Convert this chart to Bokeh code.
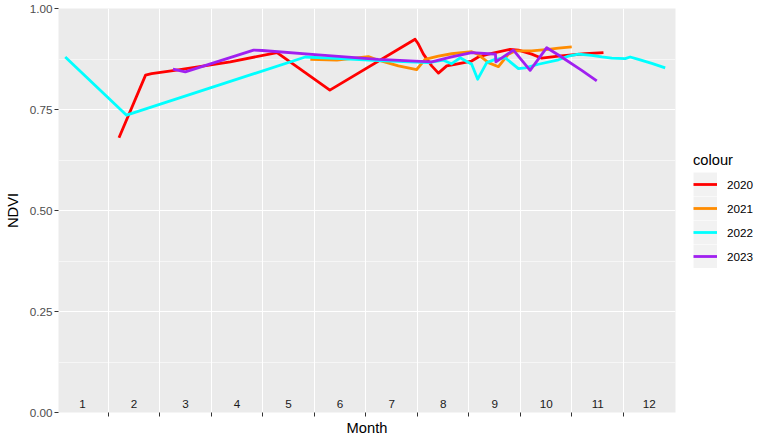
from bokeh.plotting import figure
from bokeh.models import (Range1d, FixedTicker, NumeralTickFormatter, Legend,
                          LegendItem)
from bokeh.embed import file_html
from bokeh.resources import INLINE

FONT = "Liberation Sans"

years = ["2020", "2021", "2022", "2023"]
colors = ["#FF0000", "#FF8C00", "#00FFFF", "#A020F0"]

month_2020 = [1.708, 2.224, 2.341, 2.859, 3.869, 4.776, 5.801, 7.455, 7.519, 7.617,
              7.778, 7.908, 8.069, 8.232, 8.554, 8.684, 8.879, 9.300, 9.461, 9.719,
              9.914, 10.238, 10.756, 11.112]
ndvi_2020 = [0.680, 0.835, 0.839, 0.848, 0.868, 0.891, 0.798, 0.924, 0.912, 0.887,
             0.858, 0.840, 0.858, 0.862, 0.870, 0.880, 0.887, 0.899, 0.897, 0.887,
             0.877, 0.882, 0.888, 0.891]

month_2021 = [5.422, 5.937, 6.549, 6.743, 7.131, 7.486, 7.649, 7.908, 8.166, 8.554,
              8.671, 8.879, 9.073, 9.267, 9.397, 9.719, 10.044, 10.238, 10.496]
ndvi_2021 = [0.874, 0.872, 0.881, 0.872, 0.858, 0.849, 0.874, 0.882, 0.888, 0.893,
             0.887, 0.866, 0.856, 0.887, 0.895, 0.895, 0.899, 0.902, 0.905]

month_2022 = [0.665, 1.855, 5.325, 6.005, 6.743, 7.714, 8.005, 8.160, 8.329, 8.554,
              8.671, 8.846, 9.009, 9.203, 9.461, 9.591, 9.850, 10.238, 10.432, 10.626,
              10.884, 11.079, 11.273, 11.533, 11.630, 11.791, 12.050, 12.310]
ndvi_2022 = [0.880, 0.736, 0.880, 0.876, 0.871, 0.866, 0.872, 0.863, 0.878, 0.862,
             0.825, 0.866, 0.874, 0.878, 0.851, 0.853, 0.862, 0.873, 0.882, 0.887,
             0.884, 0.880, 0.877, 0.876, 0.880, 0.874, 0.864, 0.853]

month_2023 = [2.756, 2.995, 4.321, 4.490, 5.578, 6.743, 7.778, 8.166, 8.554, 8.879,
              9.015, 9.024, 9.364, 9.688, 10.011, 10.238, 10.690, 10.982]
ndvi_2023 = [0.850, 0.843, 0.897, 0.896, 0.885, 0.874, 0.868, 0.880, 0.891, 0.888,
             0.887, 0.868, 0.897, 0.847, 0.903, 0.885, 0.847, 0.821]

month_pos = [1, 2, 3, 4, 5, 6, 7, 8, 9, 10, 11, 12]
month_edges = [1.5, 2.5, 3.5, 4.5, 5.5, 6.5, 7.5, 8.5, 9.5, 10.5, 11.5]
ndvi_ticks = [0.0, 0.25, 0.5, 0.75, 1.0]
ndvi_minor = [0.125, 0.375, 0.625, 0.875]

series_x = [month_2020, month_2021, month_2022, month_2023]
series_y = [ndvi_2020, ndvi_2021, ndvi_2022, ndvi_2023]

p = figure(frame_width=617, frame_height=404, output_backend="svg",
           toolbar_location=None,
           x_range=Range1d(0.534, 12.51), y_range=Range1d(0, 1),
           min_border_left=58, min_border_right=98, min_border_top=8,
           min_border_bottom=30)
p.background_fill_color = "#EBEBEB"
p.border_fill_color = "white"
p.outline_line_color = None

# x axis: month numbers at month centres (drawn inside the panel),
# tick marks at month boundaries
xa = p.xaxis[0]
xa.ticker = FixedTicker(ticks=month_pos, minor_ticks=month_edges)
xa.major_label_text_font = FONT
xa.major_label_text_font_size = "11.7px"
xa.major_label_text_color = "#1A1A1A"
xa.major_label_standoff = -17
xa.major_tick_out = 0
xa.major_tick_in = 0
xa.minor_tick_out = 4
xa.minor_tick_in = 0
xa.minor_tick_line_color = "#333333"
xa.axis_line_color = None
xa.axis_label = "Month"
xa.axis_label_text_font = FONT
xa.axis_label_text_font_size = "14.7px"
xa.axis_label_text_font_style = "normal"
xa.axis_label_text_color = "#000000"
xa.axis_label_standoff = 9

ya = p.yaxis[0]
ya.ticker = FixedTicker(ticks=ndvi_ticks, minor_ticks=ndvi_minor)
ya.formatter = NumeralTickFormatter(format="0.00")
ya.major_label_text_font = FONT
ya.major_label_text_font_size = "11.7px"
ya.major_label_text_color = "#4D4D4D"
ya.major_label_standoff = 2
ya.major_tick_out = 4
ya.major_tick_in = 0
ya.minor_tick_out = 0
ya.minor_tick_in = 0
ya.major_tick_line_color = "#333333"
ya.axis_line_color = None
ya.axis_label = "NDVI"
ya.axis_label_text_font = FONT
ya.axis_label_text_font_size = "14.7px"
ya.axis_label_text_font_style = "normal"
ya.axis_label_text_color = "#000000"
ya.axis_label_standoff = 6

p.xgrid.ticker = FixedTicker(ticks=month_edges, minor_ticks=[])
p.xgrid.grid_line_color = "white"
p.xgrid.grid_line_width = 1.1
p.ygrid.grid_line_color = "white"
p.ygrid.grid_line_width = 1.1
p.ygrid.minor_grid_line_color = "white"
p.ygrid.minor_grid_line_width = 0.55

# legend key background proxy (hidden in the plot, drawn only in the legend)
key_bg = p.segment(x0=month_pos[:1], y0=ndvi_ticks[:1], x1=month_pos[:1],
                   y1=ndvi_ticks[:1], line_color="#F2F2F2", line_width=24,
                   line_cap="butt", visible=False)

items = []
for yr, col, xs, ys in zip(years, colors, series_x, series_y):
    r = p.line(xs, ys, line_color=col, line_width=2.8, line_join="round")
    items.append(LegendItem(label=yr, renderers=[key_bg, r]))

legend = Legend(items=items, title="colour", location="center_left")
legend.margin = 18
legend.padding = 0
legend.spacing = 0
legend.glyph_width = 24
legend.glyph_height = 24
legend.label_standoff = 10
legend.title_standoff = 4
legend.title_text_font = FONT
legend.title_text_font_size = "14.7px"
legend.title_text_font_style = "normal"
legend.title_text_color = "#000000"
legend.label_text_font = FONT
legend.label_text_font_size = "11.7px"
legend.label_text_color = "#000000"
legend.border_line_color = None
legend.background_fill_alpha = 0
p.add_layout(legend, "right")

open("out.html", "w").write(file_html(p, INLINE))
